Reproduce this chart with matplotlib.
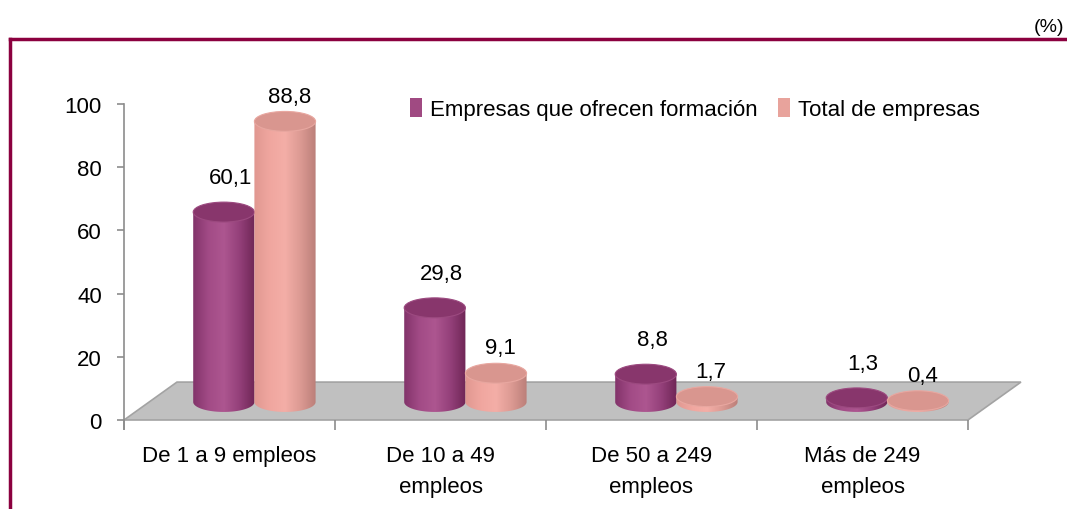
import numpy as np
import matplotlib
matplotlib.use("Agg")
import matplotlib.pyplot as plt
from matplotlib import font_manager
from matplotlib.patches import Ellipse, Polygon, Patch
from matplotlib.lines import Line2D
from matplotlib.colors import LinearSegmentedColormap

# data
categories = ["De 1 a 9 empleos", "De 10 a 49\nempleos", "De 50 a 249\nempleos", "Más de 249\nempleos"]
con_formacion = [60.1, 29.8, 8.8, 1.3]
total_empresas = [88.8, 9.1, 1.7, 0.4]
series_names = ["Empresas que ofrecen formación", "Total de empresas"]
y_ticks = [0, 20, 40, 60, 80, 100]

names = {f.name for f in font_manager.fontManager.ttflist}
if "Liberation Sans Narrow" in names:
    plt.rcParams["font.family"] = ["Liberation Sans Narrow", "DejaVu Sans"]
else:
    plt.rcParams["font.family"] = ["Liberation Sans", "DejaVu Sans"]

# fake 3d look
BAR_W = 0.29      # width of each cylinder (category units)
SHIFT = 0.118     # depth shift of the bars to the right
BASE = 5.7        # bars stand in the middle of the floor
ELL_H = 6.3       # height of the ellipses (value units)
FLOOR_D = 12.0
FLOOR_DX = 0.251

purple_cmap = LinearSegmentedColormap.from_list(
    "p", ["#82336a", "#a24b86", "#ad5690", "#94407a", "#6f2656"])
pink_cmap = LinearSegmentedColormap.from_list(
    "k", ["#e09790", "#f0a69f", "#f4aea7", "#dc9a93", "#bb7f79"])


def cylinder(ax, xc, value, cmap, top_color, rim, z):
    x0, x1 = xc - BAR_W / 2, xc + BAR_W / 2
    top = BASE + value
    t = np.linspace(np.pi, 2 * np.pi, 80)
    bx = xc + BAR_W / 2 * np.cos(t)
    by = BASE + ELL_H / 2 * np.sin(t)
    verts = list(zip(bx, by)) + [(x1, top), (x0, top)]
    clip = Polygon(verts, closed=True, facecolor="none", edgecolor="none")
    ax.add_patch(clip)
    grad = np.linspace(0, 1, 256).reshape(1, -1)
    im = ax.imshow(grad, cmap=cmap, extent=(x0, x1, BASE - ELL_H / 2, top),
                   aspect="auto", origin="lower", zorder=z)
    im.set_clip_path(clip)
    ax.add_patch(Ellipse((xc, top), BAR_W, ELL_H, facecolor=top_color,
                         edgecolor=rim, lw=0.8, zorder=z + 0.05))


fig = plt.figure(figsize=(10.67, 5.10), dpi=100)
ax = fig.add_axes([124 / 1067, 89 / 510, 844 / 1067, 316 / 510])

x = np.arange(len(categories))

# floor
floor = Polygon([(-0.5, 0), (3.5, 0), (3.5 + FLOOR_DX, FLOOR_D), (-0.5 + FLOOR_DX, FLOOR_D)],
                closed=True, facecolor="#c0c0c0", edgecolor="#a3a3a3", lw=1.2,
                zorder=1, clip_on=False)
ax.add_patch(floor)

for i in range(len(categories)):
    xp = x[i] + SHIFT - BAR_W / 2
    xk = x[i] + SHIFT + BAR_W / 2
    cylinder(ax, xp, con_formacion[i], purple_cmap, "#88366c", "#9c4a80", 3 + i)
    cylinder(ax, xk, total_empresas[i], pink_cmap, "#d9968f", "#e8a7a0", 3.5 + i)
    ax.text(xp + 0.03, BASE + con_formacion[i] + 11, f"{con_formacion[i]:.1f}".replace(".", ","),
            ha="center", va="center", fontsize=16, zorder=10)
    ax.text(xk + 0.02, BASE + total_empresas[i] + 8, f"{total_empresas[i]:.1f}".replace(".", ","),
            ha="center", va="center", fontsize=16, zorder=10)

ax.set_xlim(-0.5, 3.5)
ax.set_ylim(0, 100)
ax.set_yticks(y_ticks)
ax.set_xticks(x)
ax.set_xticklabels(categories, fontsize=16, linespacing=1.6)
ax.set_xticks(np.arange(-0.5, 4, 1), minor=True)
ax.tick_params(axis="x", which="major", length=0, pad=18)
ax.tick_params(axis="x", which="minor", length=7, color="#8c8c8c", width=1.2)
ax.tick_params(axis="y", length=5, color="#8c8c8c", width=1.2, labelsize=16, pad=11)
for s in ["top", "right", "bottom"]:
    ax.spines[s].set_visible(False)
ax.spines["left"].set_color("#8c8c8c")
ax.spines["left"].set_linewidth(1.2)
ax.spines["left"].set_bounds(-3, 100)
ax.patch.set_alpha(0)

handles = [Patch(facecolor="#a04a82"), Patch(facecolor="#e8a39c")]
fig.legend(handles, series_names, loc="center left", bbox_to_anchor=(390 / 1067, 400 / 510),
           frameon=False, fontsize=16, ncol=2, handlelength=0.55, handleheight=0.9,
           handletextpad=0.35, columnspacing=0.9)

# maroon frame and unit
fig.add_artist(Line2D([10 / 1067, 1], [470 / 510, 470 / 510], color="#8b003f", lw=2.5))
fig.add_artist(Line2D([10 / 1067, 10 / 1067], [0, 470 / 510], color="#8b003f", lw=2.5))
fig.text(1064 / 1067, 482 / 510, "(%)", fontsize=14, ha="right", va="center")

fig.savefig("out.png", dpi=100)
